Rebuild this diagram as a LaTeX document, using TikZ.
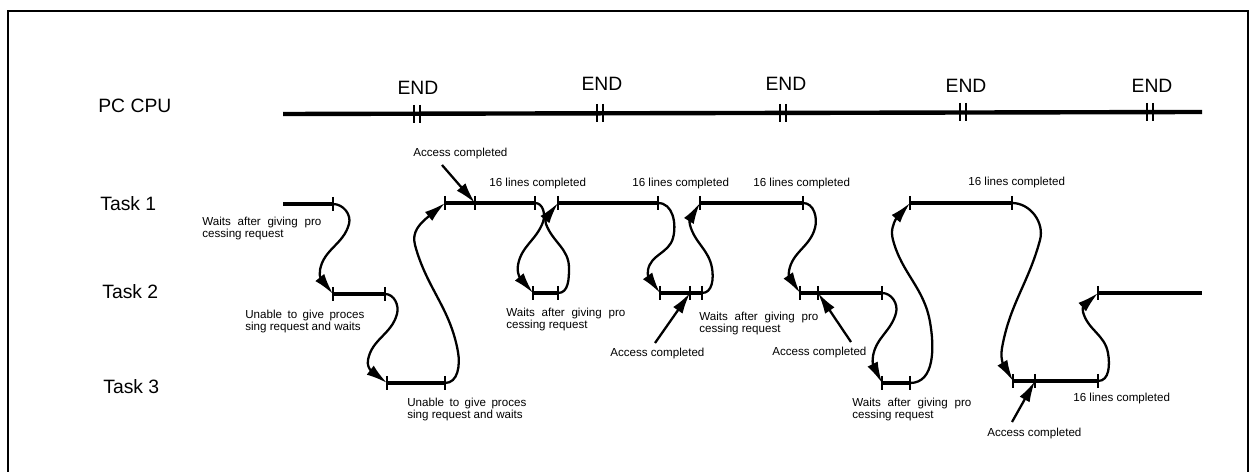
\documentclass[tikz,border=0pt]{standalone}
\usepackage{fontspec}
\setmainfont{Liberation Sans}
\usetikzlibrary{arrows.meta,bending}
\begin{document}
\begin{tikzpicture}[x=0.02cm,y=0.02cm,
  frame/.style={line width=1.1pt},
  cpu/.style={line width=2.5pt},
  seg/.style={line width=2.3pt},
  tickmark/.style={line width=1.1pt},
  curve/.style={line width=1.3pt,-{Latex[length=12pt,width=6.5pt]}},
  acc/.style={line width=1.3pt,-{Latex[length=12pt,width=6.5pt]}},
  big/.style={font=\fontsize{11}{13}\selectfont,inner sep=0pt},
  small/.style={font=\fontsize{6.6}{6.8}\selectfont,inner sep=0pt,anchor=north west},
  note/.style={small,text width=2.38cm,align=justify},
]
\useasboundingbox (0,0) rectangle (1250,-472);
% frame
\draw[frame] (8,-472) -- (8,-11) -- (1248,-11) -- (1248,-472);

% row labels
\node[big,anchor=west] (pc) at (98,-106) {PC CPU};
\node[big,anchor=west] (t1) at (100,-204) {Task 1};
\node[big,anchor=west] (t2) at (102,-292) {Task 2};
\node[big,anchor=west] (t3) at (103,-387) {Task 3};

% PC CPU line with END marks
\coordinate (p0) at (283,-114);
\coordinate (p1) at (1202,-112);
\coordinate (q1) at (417,-114);
\coordinate (q2) at (600,-113);
\coordinate (q3) at (783,-113);
\coordinate (q4) at (963,-112);
\coordinate (q5) at (1150,-112);
\draw[cpu] (p0) -- (p1);
\foreach \q in {q1,q2,q3,q4,q5}{
  \draw[tickmark] (\q) ++(-2.6,9) -- ++(0,-18);
  \draw[tickmark] (\q) ++(2.6,9) -- ++(0,-18);
}
\node[big] (end1) at (418,-88) {END};
\node[big] (end2) at (602,-84) {END};
\node[big] (end3) at (786,-84) {END};
\node[big] (end4) at (966,-86) {END};
\node[big] (end5) at (1152,-86) {END};

% task coordinates
\coordinate (a0) at (283,-204);
\coordinate (a1) at (333,-204);
\coordinate (b0) at (445,-203);
\coordinate (bm) at (475,-203);
\coordinate (b1) at (535,-203);
\coordinate (c0) at (558,-203);
\coordinate (c1) at (658,-203);
\coordinate (d0) at (700,-203);
\coordinate (d1) at (803,-203);
\coordinate (e0) at (910,-203);
\coordinate (e1) at (1012,-203);
\coordinate (f0) at (333,-294);
\coordinate (f1) at (385,-294);
\coordinate (g0) at (533,-293);
\coordinate (g1) at (558,-293);
\coordinate (h0) at (660,-293);
\coordinate (hm) at (690,-293);
\coordinate (h1) at (702,-293);
\coordinate (i0) at (800,-293);
\coordinate (im) at (818,-293);
\coordinate (i1) at (882,-293);
\coordinate (j0) at (1098,-293);
\coordinate (j1) at (1202,-293);
\coordinate (k0) at (387,-383);
\coordinate (k1) at (445,-383);
\coordinate (l0) at (882,-383);
\coordinate (l1) at (910,-383);
\coordinate (m0) at (1013,-381);
\coordinate (mm) at (1035,-381);
\coordinate (m1) at (1098,-381);

% task segments
\draw[seg] (a0) -- (a1);
\draw[seg] (b0) -- (b1);
\draw[seg] (c0) -- (c1);
\draw[seg] (d0) -- (d1);
\draw[seg] (e0) -- (e1);
\draw[seg] (f0) -- (f1);
\draw[seg] (g0) -- (g1);
\draw[seg] (h0) -- (h1);
\draw[seg] (i0) -- (i1);
\draw[seg] (j0) -- (j1);
\draw[seg] (k0) -- (k1);
\draw[seg] (l0) -- (l1);
\draw[seg] (m0) -- (m1);
\foreach \c in {a1,b0,bm,b1,c0,c1,d0,d1,e0,e1,f0,f1,g0,g1,h0,hm,h1,i0,im,i1,j0,k0,k1,l0,l1,m0,mm,m1}
  \draw[tickmark] (\c) ++(0,7) -- ++(0,-14);

% transitions
\draw[curve] (a1) to[out=0,in=75] (349,-224) to[out=-105,in=80] (320,-270) to[out=-100,in=138] (f0);
\draw[curve] (f1) to[out=0,in=75] (397,-314) to[out=-105,in=80] (368,-360) to[out=-100,in=142] (k0);
\draw[curve] (k1) to[out=0,in=-80] (458,-352) to[out=100,in=-75] (415,-245) to[out=105,in=-137] (b0);
\draw[curve] (b1) to[out=0,in=70] (543,-222) to[out=-110,in=80] (518,-265) to[out=-100,in=135] (g0);
\draw[curve] (g1) to[out=0,in=-90] (569,-268) to[out=90,in=-70] (546,-224) to[out=110,in=-120] (c0);
\draw[curve] (c1) to[out=0,in=75] (673,-238) to[out=-105,in=80] (648,-270) to[out=-100,in=130] (h0);
\draw[curve] (h1) to[out=0,in=-80] (712,-268) to[out=100,in=-75] (690,-225) to[out=105,in=-130] (d0);
\draw[curve] (d1) to[out=0,in=75] (815,-228) to[out=-105,in=80] (789,-271) to[out=-100,in=135] (i0);
\draw[curve] (i1) to[out=0,in=75] (896,-313) to[out=-105,in=80] (873,-356) to[out=-100,in=122] (l0);
\draw[curve] (l1) to[out=0,in=-80] (930,-322) to[out=100,in=-75] (893,-240) to[out=105,in=-138] (e0);
\draw[curve] (e1) to[out=0,in=75] (1040,-240) to[out=-105,in=80] (1002,-348) to[out=-100,in=128] (m0);
\draw[curve] (m1) to[out=0,in=-80] (1108,-353) to[out=100,in=-75] (1083,-312) to[out=105,in=-138] (j0);

% access completed arrows
\coordinate (sa1) at (442,-165);
\coordinate (sa2) at (655,-343);
\coordinate (sa3) at (851,-342);
\coordinate (sa4) at (1012,-422);
\draw[acc] (sa1) -- (bm);
\draw[acc] (sa2) -- (hm);
\draw[acc] (sa3) -- (im);
\draw[acc] (sa4) -- (mm);
\node[small] (ac1) at (413,-148) {Access completed};
\node[small] (ac2) at (610,-348) {Access completed};
\node[small] (ac3) at (772,-347) {Access completed};
\node[small] (ac4) at (987,-428) {Access completed};

% 16 lines completed
\node[small] (lc1) at (489,-178) {16 lines completed};
\node[small] (lc2) at (632,-178) {16 lines completed};
\node[small] (lc3) at (753,-178) {16 lines completed};
\node[small] (lc4) at (968,-177) {16 lines completed};
\node[small] (lc5) at (1073,-393) {16 lines completed};

% waits / unable notes
\node[note] (w1) at (202,-217) {Waits after giving pro\linebreak cessing request};
\node[note] (w2) at (506,-308) {Waits after giving pro\linebreak cessing request};
\node[note] (w3) at (699,-312) {Waits after giving pro\linebreak cessing request};
\node[note] (w4) at (852,-398) {Waits after giving pro\linebreak cessing request};
\node[note] (u1) at (245,-310) {Unable to give proces\linebreak sing request and waits};
\node[note] (u2) at (407,-398) {Unable to give proces\linebreak sing request and waits};
\end{tikzpicture}
\end{document}
